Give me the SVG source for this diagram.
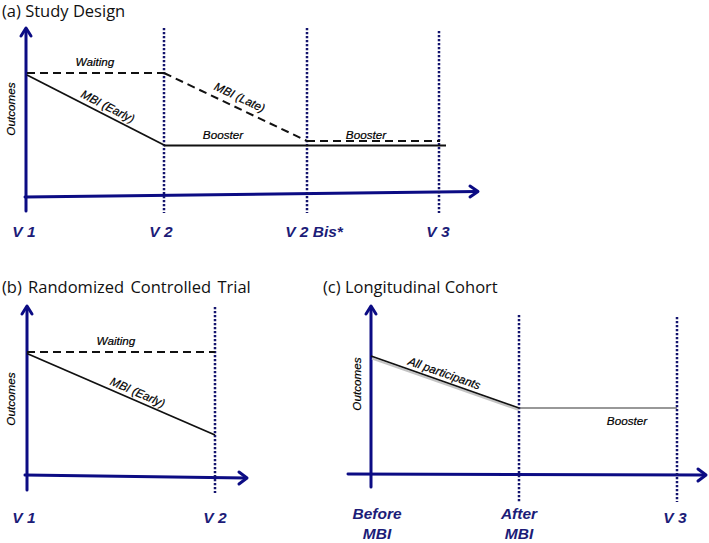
<svg xmlns="http://www.w3.org/2000/svg" width="709" height="543" viewBox="0 0 709 543">
<style>
.title{font-family:"Open Sans","Liberation Sans",sans-serif;font-size:16.5px;fill:#111}
.lab{font-family:"Liberation Sans",Arial,sans-serif;font-style:italic;font-size:11.7px;fill:#000;stroke:#000;stroke-width:0.2}
.tick{font-family:"Liberation Sans",Arial,sans-serif;font-style:italic;font-weight:bold;font-size:15.5px;fill:#1c1c78;text-anchor:middle}
.axis{stroke:#0c0c84;stroke-width:3;fill:none;stroke-linecap:round;stroke-linejoin:round}
.dot{stroke:#14146e;stroke-width:2.5;stroke-dasharray:2.2 1.8;fill:none}
.solid{stroke:#111;stroke-width:1.8;fill:none}
.thin{stroke:#333;stroke-width:1.2;fill:none}
.dash{stroke:#111;stroke-width:2;stroke-dasharray:8 5;fill:none}
</style>
<rect width="709" height="543" fill="#fff"/>

<g id="panel-a">
  <text class="title" x="2" y="17">(a) Study Design</text>
  <g id="a-axes">
    <line class="axis" x1="26" y1="29" x2="26" y2="211"/>
    <polyline class="axis" points="21,36 26,28 31,36"/>
    <line class="axis" x1="25" y1="197" x2="477" y2="191.5"/>
    <polyline class="axis" points="470,186 478,191.5 470,197"/>
  </g>
  <g id="a-visits">
    <line class="dot" x1="164" y1="28" x2="164" y2="213"/>
    <line class="dot" x1="307" y1="28" x2="307" y2="213"/>
    <line class="dot" x1="439" y1="31" x2="439" y2="213"/>
  </g>
  <g id="a-connectors">
    <line class="dash" x1="27" y1="73" x2="164" y2="73"/>
    <line class="solid" x1="27" y1="75" x2="164" y2="145"/>
    <line class="dash" x1="164" y1="73" x2="307" y2="141"/>
    <line class="solid" x1="164" y1="145.5" x2="446" y2="145.5"/>
    <line class="dash" x1="307" y1="141" x2="440" y2="141"/>
  </g>
  <g id="a-labels">
    <text class="lab" x="95" y="66" text-anchor="middle">Waiting</text>
    <text class="lab" text-anchor="middle" transform="translate(106,110) rotate(27)">MBI (Early)</text>
    <text class="lab" text-anchor="middle" transform="translate(238,101) rotate(25.4)">MBI (Late)</text>
    <text class="lab" x="223" y="139" text-anchor="middle">Booster</text>
    <text class="lab" x="366" y="139" text-anchor="middle">Booster</text>
    <text class="lab" text-anchor="middle" transform="translate(15,109) rotate(-90)">Outcomes</text>
  </g>
  <g id="a-ticks">
    <text class="tick" x="24" y="237">V 1</text>
    <text class="tick" x="161" y="237">V 2</text>
    <text class="tick" x="314" y="237">V 2 Bis*</text>
    <text class="tick" x="438" y="237">V 3</text>
  </g>
</g>

<g id="panel-b">
  <text class="title" x="2" y="293" word-spacing="2">(b) Randomized Controlled Trial</text>
  <g id="b-axes">
    <line class="axis" x1="27" y1="307" x2="27" y2="490"/>
    <polyline class="axis" points="22,314 27,306 32,314"/>
    <line class="axis" x1="25" y1="475" x2="246" y2="478"/>
    <polyline class="axis" points="239,472 247,478 239,484"/>
  </g>
  <g id="b-visits">
    <line class="dot" x1="215" y1="307" x2="215" y2="493"/>
  </g>
  <g id="b-connectors">
    <line class="dash" x1="27" y1="352" x2="215" y2="352"/>
    <line class="solid" x1="27" y1="353.5" x2="215" y2="435"/>
  </g>
  <g id="b-labels">
    <text class="lab" x="116" y="345" text-anchor="middle">Waiting</text>
    <text class="lab" text-anchor="middle" transform="translate(136,396) rotate(23.6)">MBI (Early)</text>
    <text class="lab" text-anchor="middle" transform="translate(15,399) rotate(-90)">Outcomes</text>
  </g>
  <g id="b-ticks">
    <text class="tick" x="24" y="523">V 1</text>
    <text class="tick" x="215" y="523">V 2</text>
  </g>
</g>

<g id="panel-c">
  <text class="title" x="323" y="293">(c) Longitudinal Cohort</text>
  <g id="c-axes">
    <line class="axis" x1="371" y1="307" x2="371" y2="487"/>
    <polyline class="axis" points="366,314 371,306 376,314"/>
    <line class="axis" x1="348" y1="474" x2="705" y2="475"/>
    <polyline class="axis" points="698,469 706,475 698,481"/>
  </g>
  <g id="c-visits">
    <line class="dot" x1="519" y1="315" x2="519" y2="502"/>
    <line class="dot" x1="677" y1="317" x2="677" y2="502"/>
  </g>
  <g id="c-connectors">
    <line stroke="#c4c4c4" stroke-width="2" x1="372" y1="358.5" x2="519" y2="410"/>
    <line class="solid" x1="371" y1="356" x2="519" y2="408"/>
    <line class="thin" x1="519" y1="408" x2="677" y2="408"/>
  </g>
  <g id="c-labels">
    <text class="lab" text-anchor="middle" transform="translate(443,377) rotate(19.4)">All participants</text>
    <text class="lab" x="627" y="425" text-anchor="middle">Booster</text>
    <text class="lab" text-anchor="middle" transform="translate(361,384) rotate(-90)">Outcomes</text>
  </g>
  <g id="c-ticks">
    <text class="tick" x="377" y="519">Before</text>
    <text class="tick" x="377" y="539">MBI</text>
    <text class="tick" x="519" y="519">After</text>
    <text class="tick" x="519" y="539">MBI</text>
    <text class="tick" x="675" y="523">V 3</text>
  </g>
</g>
</svg>
